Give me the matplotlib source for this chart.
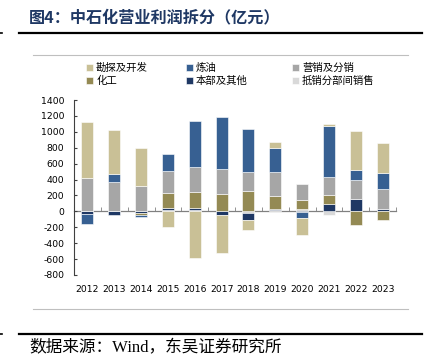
import numpy as np
import matplotlib
matplotlib.use("Agg")
import matplotlib.pyplot as plt
from matplotlib.lines import Line2D

plt.rcParams['font.family'] = ['DejaVu Sans', 'Noto Sans CJK SC']
plt.rcParams['axes.unicode_minus'] = False

# data (亿元)
years = ['2012', '2013', '2014', '2015', '2016', '2017',
         '2018', '2019', '2020', '2021', '2022', '2023']
ep = [704, 550, 471, -196, -583, -475, -125, 67, -215, 29, 495, 375]          # 勘探及开发
refining = [-128, 100, -30, 213, 574, 655, 545, 308, -70, 642, 121, 200]      # 炼油
marketing = [421, 367, 321, 271, 317, 316, 234, 296, 200, 225, 238, 250]      # 营销及分销
chemicals = [0, 0, -20, 197, 204, 217, 258, 164, 111, 116, -167, -105]        # 化工
corporate = [-30, -45, -20, 25, 30, -46, -80, 20, -10, 92, 158, 29]           # 本部及其他
elimination = [0, 0, 0, 15, 12, 0, -25, 12, 35, -46, 0, 0]                    # 抵销分部间销售

series_names = ['勘探及开发', '炼油', '营销及分销', '化工', '本部及其他', '抵销分部间销售']
series_vals = [ep, refining, marketing, chemicals, corporate, elimination]
series_colors = ['#c9c096', '#376092', '#a6a6a6', '#948a54', '#1f3864', '#d9d9d9']

W, H = 429, 357
fig = plt.figure(figsize=(W / 100, H / 100), dpi=100)


def fx(px):
    return px / W


def fy(py):
    return 1 - py / H


def hline(py, x0, x1, color, lw):
    fig.add_artist(Line2D([fx(x0), fx(x1)], [fy(py), fy(py)],
                          transform=fig.transFigure, color=color, lw=lw))


# header / footer decoration
fig.text(fx(29), fy(17), '图4：中石化营业利润拆分（亿元）', fontsize=11.6, fontweight='bold',
         color='#1f3864', va='center', ha='left', family=['Noto Sans CJK SC'])
hline(33, 19, 422, 'black', 1.6)
hline(55, 33, 408, '#bfbfbf', 0.8)
hline(309, 33, 408, '#bfbfbf', 0.8)
hline(334, 19, 422, 'black', 1.6)
hline(33, 0, 2, 'black', 1.2)
hline(334, 0, 2, 'black', 1.2)
fig.text(fx(29), fy(348), '数据来源：Wind，东吴证券研究所', fontsize=12, color='black',
         va='center', ha='left', family=['Liberation Serif', 'Noto Sans CJK SC'])

ax = fig.add_axes([fx(74), fy(275), fx(396) - fx(74), fy(100) - fy(275)])

x = np.arange(len(years))
pos_base = np.zeros(len(years))
neg_base = np.zeros(len(years))
bars = {}
# stacked outward from zero: elimination first, exploration last
for name, vals, col in reversed(list(zip(series_names, series_vals, series_colors))):
    v = np.array(vals, dtype=float)
    bottom = np.where(v >= 0, pos_base, neg_base)
    bars[name] = ax.bar(x, v, 0.45, bottom=bottom, color=col,
                        edgecolor='white', linewidth=0.4, label=name)
    pos_base = pos_base + np.clip(v, 0, None)
    neg_base = neg_base + np.clip(v, None, 0)

ax.set_xlim(-0.5, len(years) - 0.5)
ax.set_ylim(-800, 1400)
ax.set_yticks(np.arange(-800, 1401, 200))
ax.tick_params(axis='y', direction='in', length=2.5, width=0.8, labelsize=6.7,
               pad=7, color='#404040')
ax.set_xticks(x)
ax.set_xticklabels(years)
ax.tick_params(axis='x', length=0, labelsize=6.7, pad=7)
for s in ['top', 'right', 'bottom']:
    ax.spines[s].set_visible(False)
ax.spines['left'].set_color('#404040')
ax.spines['left'].set_linewidth(0.8)

# zero axis with category separators
zero_axis = ax.secondary_xaxis(800 / 2200)
zero_axis.set_xticks(np.arange(0.5, len(years), 1))
zero_axis.set_xticklabels([])
zero_axis.tick_params(direction='in', length=3, width=0.6, color='#808080')
zero_axis.spines['bottom'].set_color('#808080')
zero_axis.spines['bottom'].set_linewidth(0.9)

# legend: three columns placed separately
legend_cols = [(['勘探及开发', '化工'], 82),
               (['炼油', '本部及其他'], 182),
               (['营销及分销', '抵销分部间销售'], 288)]
for names, x_px in legend_cols:
    leg = fig.legend([bars[n] for n in names], names, ncol=1, frameon=False,
                     loc='upper left', bbox_to_anchor=(fx(x_px), fy(59)),
                     prop={'family': ['Noto Sans CJK SC'], 'size': 7.5},
                     handlelength=0.65, handleheight=0.65, handletextpad=0.3,
                     labelspacing=0.25, borderaxespad=0)

fig.savefig('out.png', dpi=100)
